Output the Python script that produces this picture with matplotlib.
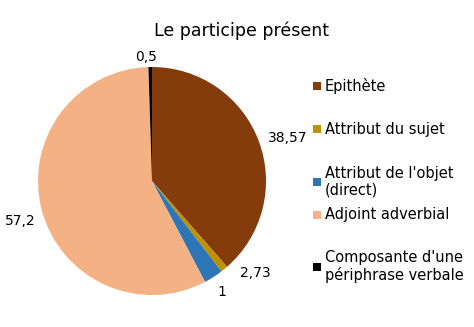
import numpy as np
import matplotlib
matplotlib.use("Agg")
import matplotlib.pyplot as plt
from matplotlib.patches import Rectangle

# Values (percent) for each function of the present participle
categories = [
    "Epithète",
    "Attribut du sujet",
    "Attribut de l'objet\n(direct)",
    "Adjoint adverbial",
    "Composante d'une\npériphrase verbale",
]
values = [38.57, 1, 2.73, 57.2, 0.5]
value_labels = ["38,57", "1", "2,73", "57,2", "0,5"]
colors = ["#843C0C", "#BF9000", "#2E75B6", "#F4B183", "#000000"]

W, H = 474, 327
fig = plt.figure(figsize=(W / 100, H / 100), dpi=100, facecolor="white")

# Pie axes placed in pixel terms: center (152, 181), radius 114
cx, cy, r = 152, 181, 114
ax = fig.add_axes([(cx - r) / W, (H - cy - r) / H, 2 * r / W, 2 * r / H])

wedges, texts = ax.pie(
    values,
    colors=colors,
    startangle=90,
    counterclock=False,
    radius=1,
    labels=value_labels,
    labeldistance=1.18,
    textprops=dict(fontsize=10, color="black"),
)
ax.set_xlim(-1, 1)
ax.set_ylim(-1, 1)
ax.set_aspect("equal")
ax.axis("off")

# Label positions (axes data units); the two thin slices get pulled apart
label_pos = {
    0: (1.19, 0.38),
    1: (0.61, -0.97),
    2: (0.91, -0.81),
    3: (-1.16, -0.35),
    4: (-0.05, 1.09),
}
for i, (x, y) in label_pos.items():
    texts[i].set_position((x, y))
    texts[i].set_ha("center")
    texts[i].set_va("center")
    texts[i].set_clip_on(False)

# Title
fig.text(242 / W, 1 - 31 / H, "Le participe présent",
         ha="center", va="center", fontsize=12.5, color="black")

# Legend drawn by hand to keep the uneven spacing
legend_y = [86, 129, 181.5, 215, 266.5]
for y, label, c in zip(legend_y, categories, colors):
    fig.patches.append(Rectangle(
        (313 / W, 1 - (y + 4) / H), 8 / W, 8 / H,
        transform=fig.transFigure, facecolor=c, edgecolor="none"))
    fig.text(325 / W, 1 - y / H, label, ha="left", va="center",
             fontsize=10.5, color="black", linespacing=1.12)

fig.savefig("out.png", dpi=100, facecolor="white")
